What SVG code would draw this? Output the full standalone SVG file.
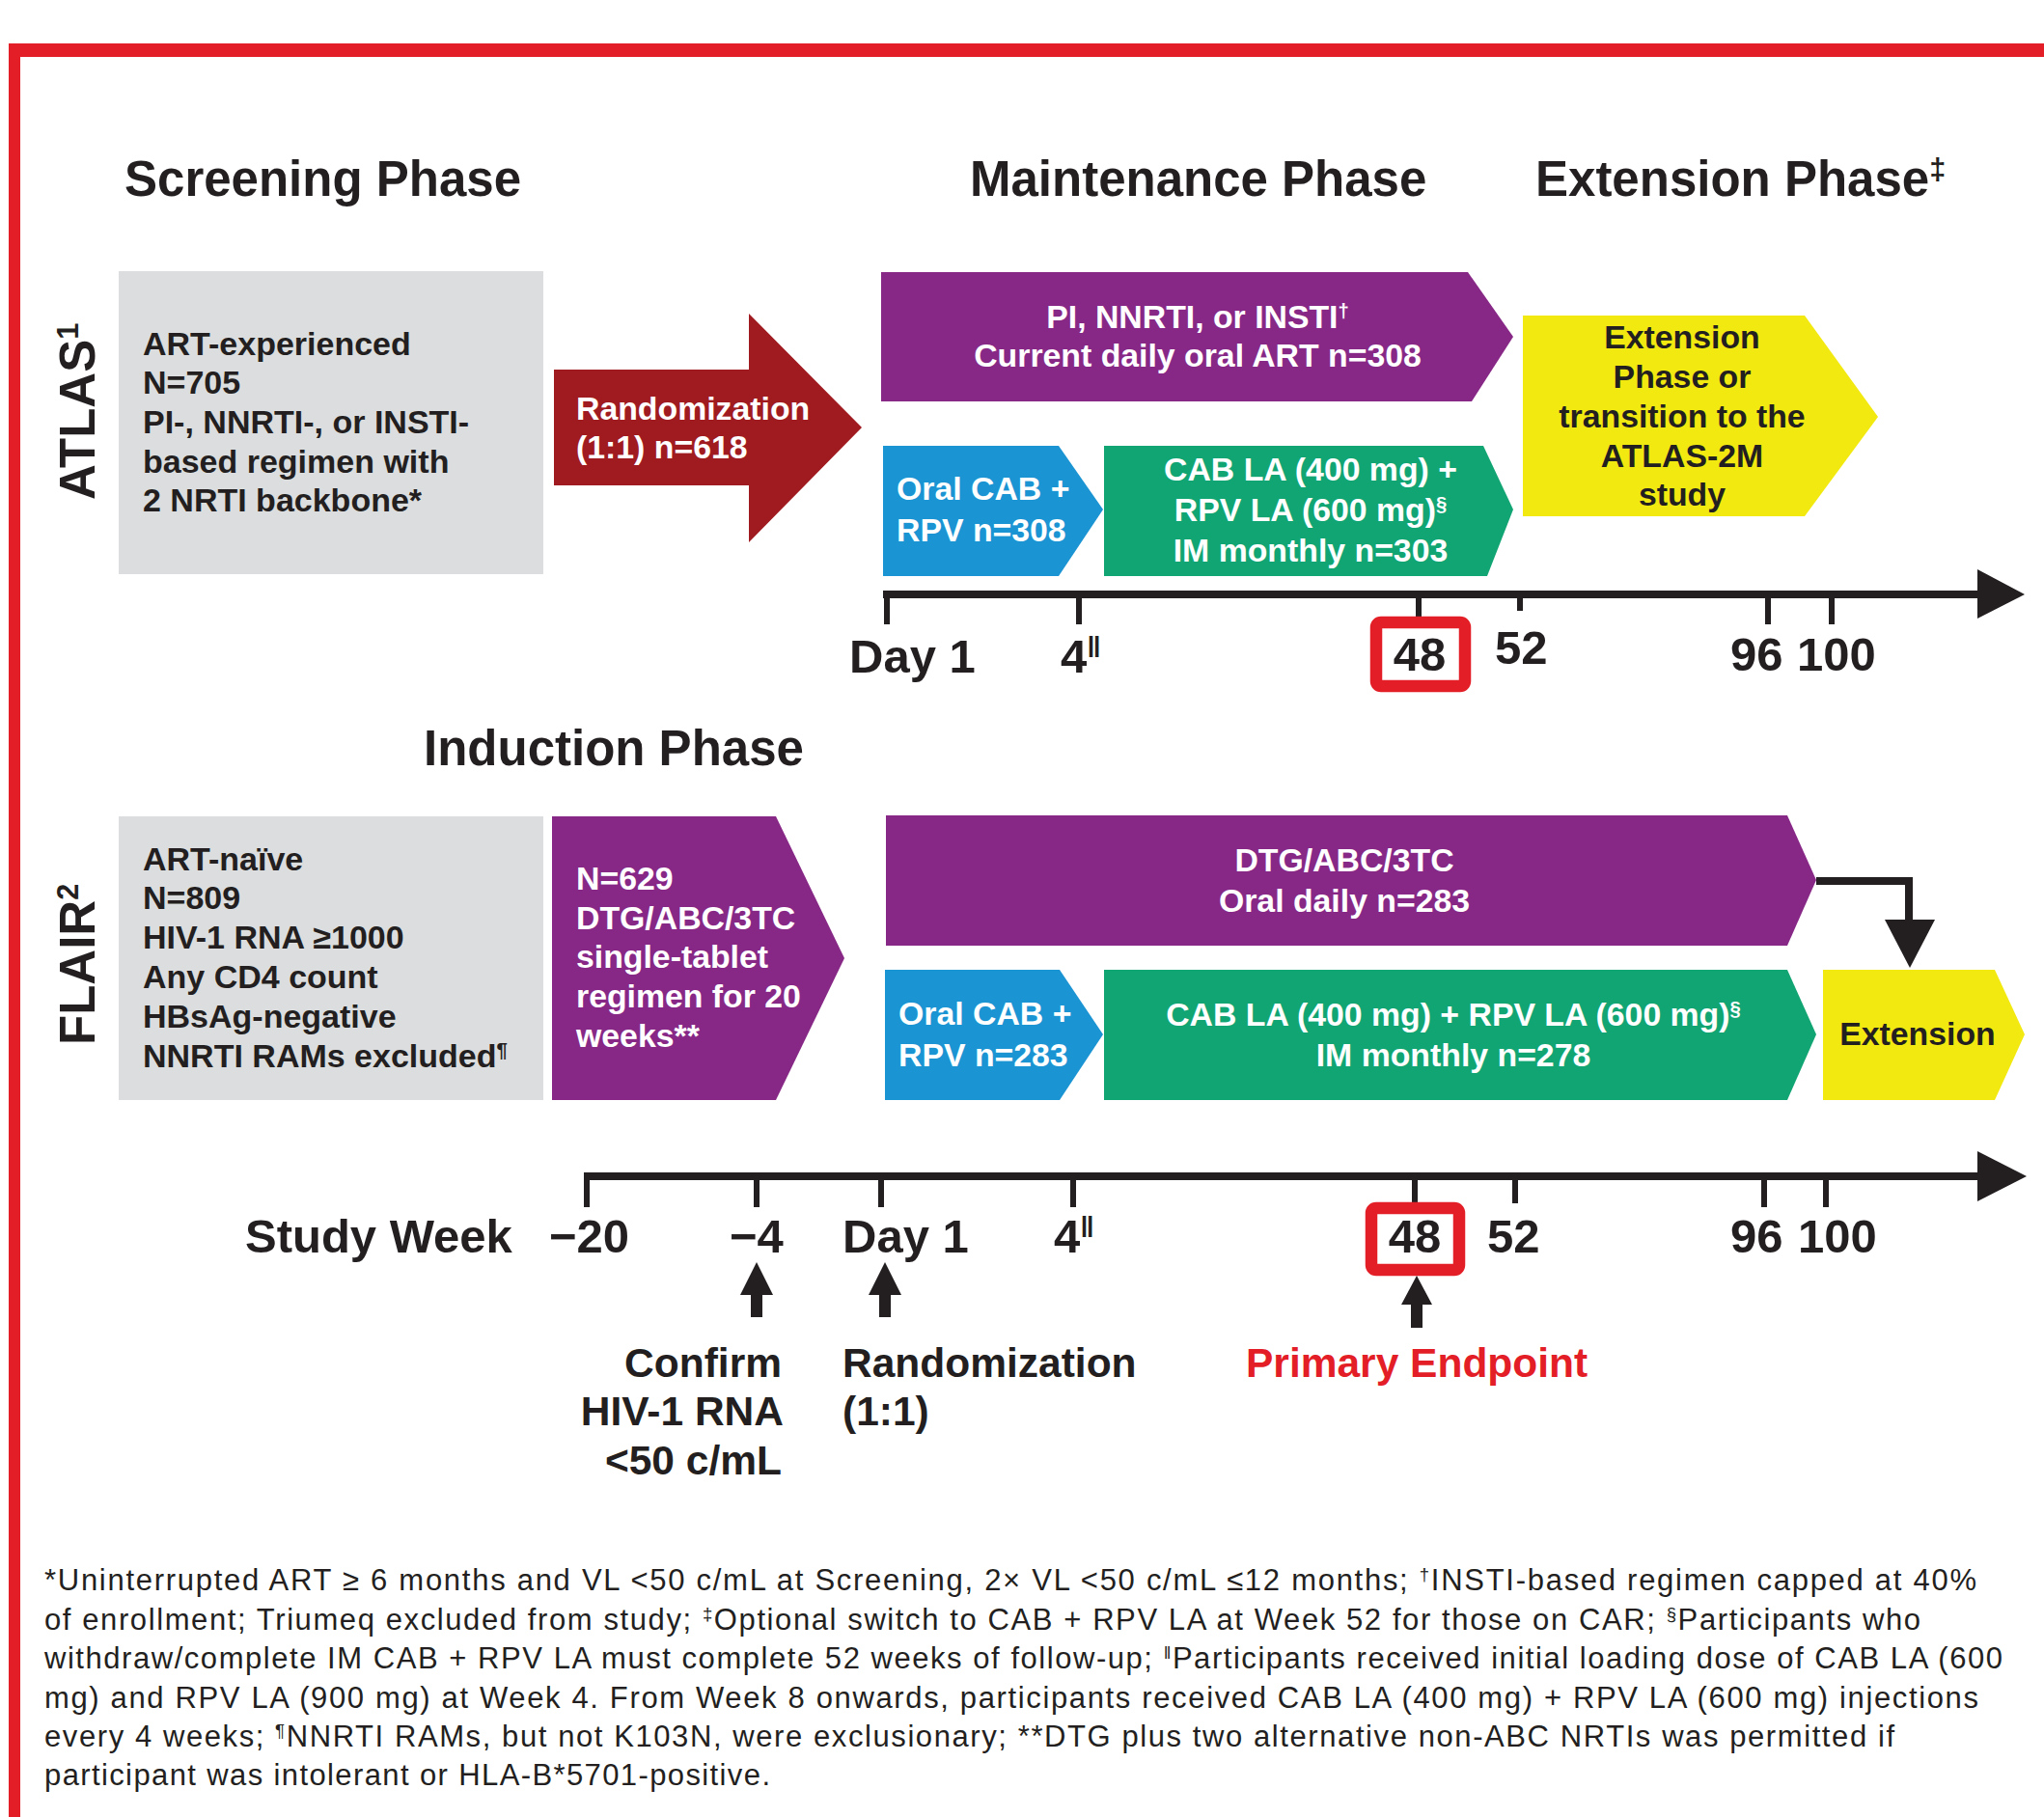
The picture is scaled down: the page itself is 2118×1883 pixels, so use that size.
<svg xmlns="http://www.w3.org/2000/svg" width="2118" height="1883" viewBox="0 0 2118 1883">
<style>
text{font-family:"Liberation Sans",Arial,Helvetica,sans-serif;fill:#231f20}
.hdr{font-weight:bold;font-size:51px}
.bx{font-weight:bold;font-size:33.8px}
.gt{font-weight:bold;font-size:34px}
.w{fill:#fff}
.tl{font-weight:bold;font-size:49px}
.lb{font-weight:bold;font-size:42.5px}
.ft{font-size:31px}
.sup{font-size:60%}
.purple{fill:#872887}
.blue{fill:#1b94d3}
.green{fill:#12a574}
.yellow{fill:#f2e910}
.gray{fill:#dcdddf}
.axis{stroke:#231f20;stroke-width:8;fill:none}
.tick{stroke:#231f20;stroke-width:6;fill:none}
.blk{fill:#231f20}
.redbox{fill:#fff;stroke:#e31e26;stroke-width:12.5}
</style>

<!-- frame -->
<g id="frame">
  <rect x="9" y="45" width="2109" height="14" fill="#e31e26"/>
  <rect x="9" y="45" width="12" height="1838" fill="#e31e26"/>
</g>

<!-- headers -->
<g id="headers">
  <text class="hdr" x="129" y="203">Screening Phase</text>
  <text class="hdr" x="1005" y="203">Maintenance Phase</text>
  <text class="hdr" x="1591" y="203">Extension Phase<tspan class="sup" baseline-shift="super">‡</tspan></text>
  <text class="hdr" x="439" y="793">Induction Phase</text>
</g>

<!-- study labels -->
<g id="atlas-label">
  <text class="hdr" font-size="50" transform="translate(98,518) rotate(-90)">ATLAS<tspan class="sup" baseline-shift="super">1</tspan></text>
</g>
<g id="flair-label">
  <text class="hdr" font-size="50" transform="translate(98,1083) rotate(-90)">FLAIR<tspan class="sup" baseline-shift="super">2</tspan></text>
</g>

<!-- ATLAS nodes -->
<g id="atlas-screening">
  <rect class="gray" x="123" y="281" width="440" height="314"/>
  <text class="gt" x="148" y="368">ART-experienced</text>
  <text class="gt" x="148" y="408">N=705</text>
  <text class="gt" x="148" y="449">PI-, NNRTI-, or INSTI-</text>
  <text class="gt" x="148" y="490">based regimen with</text>
  <text class="gt" x="148" y="530">2 NRTI backbone*</text>
</g>
<g id="atlas-randomization">
  <polygon fill="#a01b20" points="574,383 776,383 776,325 893,443 776,562 776,503 574,503"/>
  <text class="bx w" x="597" y="435">Randomization</text>
  <text class="bx w" x="597" y="475">(1:1) n=618</text>
</g>
<g id="atlas-current-art">
  <polygon class="purple" points="913,282 1521,282 1568,349 1525,416 913,416"/>
  <text class="bx w" x="1241" y="340" text-anchor="middle">PI, NNRTI, or INSTI<tspan class="sup" baseline-shift="super">†</tspan></text>
  <text class="bx w" x="1241" y="380" text-anchor="middle" font-size="34.5">Current daily oral ART n=308</text>
</g>
<g id="atlas-oral-lead-in">
  <polygon class="blue" points="915,462 1097,462 1143,528 1097,597 915,597"/>
  <text class="bx w" x="929" y="518">Oral CAB +</text>
  <text class="bx w" x="929" y="561">RPV n=308</text>
</g>
<g id="atlas-cab-rpv-la">
  <polygon class="green" points="1144,462 1537,462 1568,528 1541,597 1144,597"/>
  <text class="bx w" x="1358" y="498" text-anchor="middle">CAB LA (400 mg) +</text>
  <text class="bx w" x="1358" y="540" text-anchor="middle">RPV LA (600 mg)<tspan class="sup" baseline-shift="super">§</tspan></text>
  <text class="bx w" x="1358" y="582" text-anchor="middle">IM monthly n=303</text>
</g>
<g id="atlas-extension">
  <polygon class="yellow" points="1578,327 1870,327 1946,432 1870,535 1578,535"/>
  <text class="bx" x="1743" y="361" text-anchor="middle">Extension</text>
  <text class="bx" x="1743" y="402" text-anchor="middle">Phase or</text>
  <text class="bx" x="1743" y="443" text-anchor="middle">transition to the</text>
  <text class="bx" x="1743" y="484" text-anchor="middle">ATLAS-2M</text>
  <text class="bx" x="1743" y="524" text-anchor="middle">study</text>
</g>

<!-- ATLAS timeline -->
<g id="atlas-timeline">
  <line class="axis" x1="915" y1="616" x2="2055" y2="616"/>
  <polygon class="blk" points="2049,590 2098,616 2049,641"/>
  <line class="tick" x1="919" y1="612" x2="919" y2="647"/>
  <line class="tick" x1="1118" y1="616" x2="1118" y2="647"/>
  <line class="tick" x1="1470" y1="616" x2="1470" y2="640"/>
  <line class="tick" x1="1575" y1="616" x2="1575" y2="633"/>
  <line class="tick" x1="1832" y1="616" x2="1832" y2="647"/>
  <line class="tick" x1="1898" y1="616" x2="1898" y2="647"/>
  <rect class="redbox" x="1426" y="645" width="92" height="66" rx="5"/>
  <text class="tl" x="880" y="697">Day 1</text>
  <text class="tl" x="1099" y="697">4<tspan class="sup" baseline-shift="super">‖</tspan></text>
  <text class="tl" x="1471" y="695" text-anchor="middle">48</text>
  <text class="tl" x="1549" y="688">52</text>
  <text class="tl" x="1793" y="695">96</text>
  <text class="tl" x="1862" y="695">100</text>
</g>

<!-- FLAIR nodes -->
<g id="flair-screening">
  <rect class="gray" x="123" y="846" width="440" height="294"/>
  <text class="gt" x="148" y="902">ART-naïve</text>
  <text class="gt" x="148" y="942">N=809</text>
  <text class="gt" x="148" y="983">HIV-1 RNA ≥1000</text>
  <text class="gt" x="148" y="1024">Any CD4 count</text>
  <text class="gt" x="148" y="1065">HBsAg-negative</text>
  <text class="gt" x="148" y="1106">NNRTI RAMs excluded<tspan class="sup" baseline-shift="super">¶</tspan></text>
</g>
<g id="flair-induction">
  <polygon class="purple" points="572,846 804,846 875,993 804,1140 572,1140"/>
  <text class="bx w" x="597" y="922">N=629</text>
  <text class="bx w" x="597" y="963">DTG/ABC/3TC</text>
  <text class="bx w" x="597" y="1003">single-tablet</text>
  <text class="bx w" x="597" y="1044">regimen for 20</text>
  <text class="bx w" x="597" y="1085">weeks**</text>
</g>
<g id="flair-dtg">
  <polygon class="purple" points="918,845 1852,845 1882,912 1852,980 918,980"/>
  <text class="bx w" x="1393" y="903" text-anchor="middle">DTG/ABC/3TC</text>
  <text class="bx w" x="1393" y="945" text-anchor="middle">Oral daily n=283</text>
</g>
<g id="flair-oral-lead-in">
  <polygon class="blue" points="917,1005 1098,1005 1143,1072 1098,1140 917,1140"/>
  <text class="bx w" x="931" y="1062">Oral CAB +</text>
  <text class="bx w" x="931" y="1105">RPV n=283</text>
</g>
<g id="flair-cab-rpv-la">
  <polygon class="green" points="1144,1005 1852,1005 1882,1072 1852,1140 1144,1140"/>
  <text class="bx w" x="1506" y="1063" text-anchor="middle">CAB LA (400 mg) + RPV LA (600 mg)<tspan class="sup" baseline-shift="super">§</tspan></text>
  <text class="bx w" x="1506" y="1105" text-anchor="middle">IM monthly n=278</text>
</g>
<g id="flair-extension">
  <polygon class="yellow" points="1889,1005 2067,1005 2098,1072 2067,1140 1889,1140"/>
  <text class="bx" x="1987" y="1083" text-anchor="middle">Extension</text>
</g>

<!-- FLAIR timeline -->
<g id="flair-timeline">
  <line class="axis" x1="605" y1="1219" x2="2055" y2="1219"/>
  <polygon class="blk" points="2049,1193 2100,1219 2049,1245"/>
  <line class="tick" x1="608" y1="1215" x2="608" y2="1251"/>
  <line class="tick" x1="784" y1="1219" x2="784" y2="1251"/>
  <line class="tick" x1="913" y1="1219" x2="913" y2="1251"/>
  <line class="tick" x1="1112" y1="1219" x2="1112" y2="1251"/>
  <line class="tick" x1="1466" y1="1219" x2="1466" y2="1247"/>
  <line class="tick" x1="1570" y1="1219" x2="1570" y2="1247"/>
  <line class="tick" x1="1828" y1="1219" x2="1828" y2="1251"/>
  <line class="tick" x1="1892" y1="1219" x2="1892" y2="1251"/>
  <rect class="redbox" x="1421" y="1252" width="91" height="64" rx="5"/>
  <text class="tl" x="254" y="1298" font-size="50.5">Study Week</text>
  <text class="tl" x="569" y="1298">−20</text>
  <text class="tl" x="756" y="1298">−4</text>
  <text class="tl" x="873" y="1298">Day 1</text>
  <text class="tl" x="1092" y="1298">4<tspan class="sup" baseline-shift="super">‖</tspan></text>
  <text class="tl" x="1466" y="1298" text-anchor="middle">48</text>
  <text class="tl" x="1541" y="1298">52</text>
  <text class="tl" x="1793" y="1298">96</text>
  <text class="tl" x="1863" y="1298">100</text>
</g>

<!-- connectors -->
<g id="connectors">
  <path d="M1882,913 H1978 V956" fill="none" stroke="#231f20" stroke-width="8"/>
  <polygon class="blk" points="1953,953 2005,953 1979,1003"/>
  <rect class="blk" x="778" y="1338" width="12" height="27"/>
  <polygon class="blk" points="784,1308 767,1342 801,1342"/>
  <rect class="blk" x="911" y="1338" width="12" height="27"/>
  <polygon class="blk" points="917,1308 900,1342 934,1342"/>
  <rect class="blk" x="1462" y="1348" width="12" height="28"/>
  <polygon class="blk" points="1468,1322 1452,1352 1484,1352"/>
</g>

<!-- event labels -->
<g id="event-labels">
  <text class="lb" x="810" y="1427" text-anchor="end">Confirm</text>
  <text class="lb" x="812" y="1477" text-anchor="end">HIV-1 RNA</text>
  <text class="lb" x="810" y="1528" text-anchor="end">&lt;50 c/mL</text>
  <text class="lb" x="873" y="1427">Randomization</text>
  <text class="lb" x="873" y="1477">(1:1)</text>
  <text class="lb" x="1291" y="1427" style="fill:#e31e26">Primary Endpoint</text>
</g>

<!-- footnotes -->
<g id="footnotes">
  <text class="ft" x="46" y="1648" textLength="2002" lengthAdjust="spacing">*Uninterrupted ART ≥ 6 months and VL &lt;50 c/mL at Screening, 2× VL &lt;50 c/mL ≤12 months; <tspan class="sup" baseline-shift="super">†</tspan>INSTI-based regimen capped at 40%</text>
  <text class="ft" x="46" y="1689" textLength="1944" lengthAdjust="spacing">of enrollment; Triumeq excluded from study; <tspan class="sup" baseline-shift="super">‡</tspan>Optional switch to CAB + RPV LA at Week 52 for those on CAR; <tspan class="sup" baseline-shift="super">§</tspan>Participants who</text>
  <text class="ft" x="46" y="1729" textLength="2029" lengthAdjust="spacing">withdraw/complete IM CAB + RPV LA must complete 52 weeks of follow-up; <tspan class="sup" baseline-shift="super">‖</tspan>Participants received initial loading dose of CAB LA (600</text>
  <text class="ft" x="46" y="1770" textLength="2004" lengthAdjust="spacing">mg) and RPV LA (900 mg) at Week 4. From Week 8 onwards, participants received CAB LA (400 mg) + RPV LA (600 mg) injections</text>
  <text class="ft" x="46" y="1810" textLength="1917" lengthAdjust="spacing">every 4 weeks; <tspan class="sup" baseline-shift="super">¶</tspan>NNRTI RAMs, but not K103N, were exclusionary; **DTG plus two alternative non-ABC NRTIs was permitted if</text>
  <text class="ft" x="46" y="1850" textLength="752" lengthAdjust="spacing">participant was intolerant or HLA-B*5701-positive.</text>
</g>
</svg>
